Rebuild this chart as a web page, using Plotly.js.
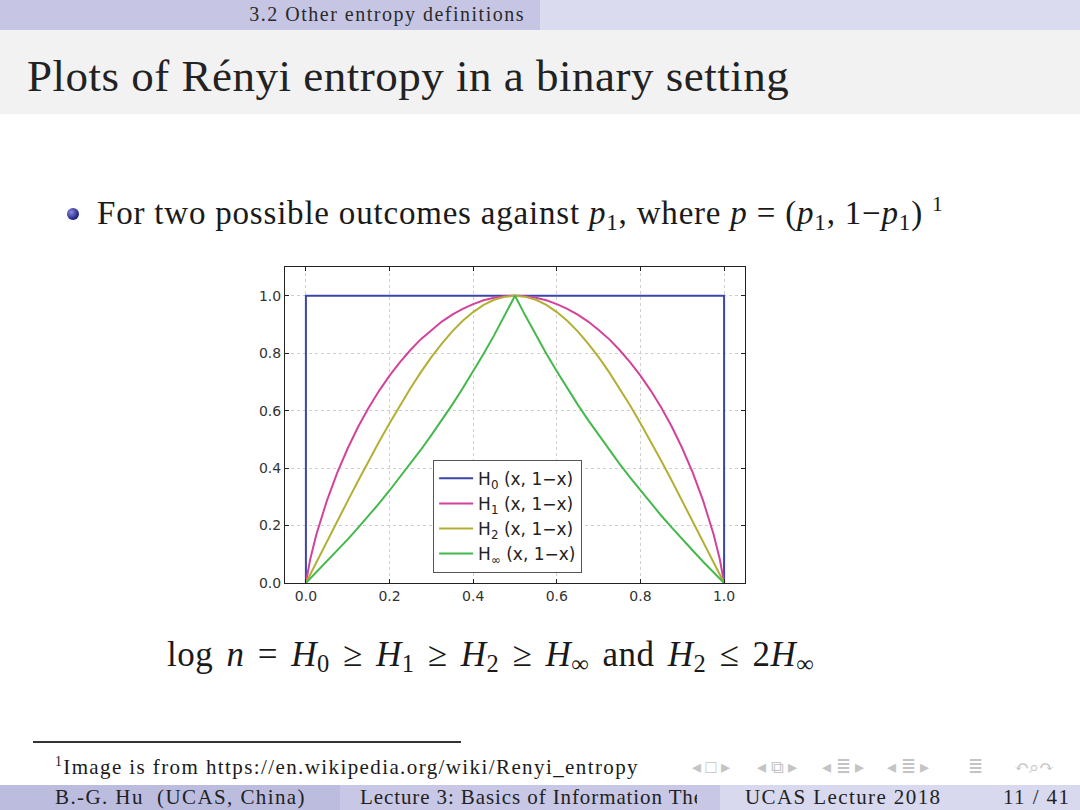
<!DOCTYPE html>
<html>
<head>
<meta charset="utf-8">
<script src="https://cdn.plot.ly/plotly-3.0.1.min.js"></script>
<style>
  html, body { margin: 0; padding: 0; }
  body { width: 1080px; height: 810px; position: relative; overflow: hidden; background: #ffffff;
         font-family: "Liberation Serif", "DejaVu Serif", serif; color: #1a1a1a; }
  .abs { position: absolute; white-space: nowrap; }
  #topL { left: 0; top: 0; width: 540px; height: 30px; background: #c6c6e4; }
  #topR { left: 540px; top: 0; width: 540px; height: 30px; background: #dbdbef; }
  #sect { right: 555px; top: 3px; font-size: 20px; letter-spacing: 1.5px; color: #2a2a2a; }
  #band { left: 0; top: 30px; width: 1080px; height: 84px; background: #f2f2f2; }
  #title { left: 27px; top: 50px; font-size: 45px; letter-spacing: 0.5px; color: #222; }
  #ball { left: 67px; top: 208px; width: 12px; height: 12px; border-radius: 50%;
          background: radial-gradient(circle at 35% 35%, #8a8ae0, #2a2a8a 60%, #15155a); }
  #bullet { left: 97px; top: 192px; font-size: 33px; letter-spacing: 0.8px; }
  #eq { left: 167px; top: 635px; font-size: 35px; word-spacing: 4px; letter-spacing: 0.5px; }
  i { font-style: italic; }
  sub { font-size: 0.7em; vertical-align: -0.25em; }
  sup { font-size: 0.65em; vertical-align: 0.6em; }
  #rule { left: 33px; top: 741px; width: 428px; height: 1.5px; background: #333; }
  #foot { left: 55px; top: 754px; font-size: 21px; letter-spacing: 1.4px; }
  .nav { top: 756px; font-size: 18px; color: #c4c4c4; }
  #fb1 { left: 0; top: 785px; width: 340px; height: 25px; background: #bcbcdf; }
  #fb2 { left: 340px; top: 785px; width: 380px; height: 25px; background: #c8c8e6; }
  #fb3 { left: 720px; top: 785px; width: 360px; height: 25px; background: #d8d8ee; }
  .ft { top: 785px; font-size: 21px; letter-spacing: 1.4px; color: #222; }
  #chart { left: 240px; top: 255px; width: 520px; height: 360px; }
</style>
</head>
<body>
<div class="abs" id="topL"></div>
<div class="abs" id="topR"></div>
<div class="abs" id="sect">3.2 Other entropy definitions</div>
<div class="abs" id="band"></div>
<div class="abs" id="title">Plots of Rényi entropy in a binary setting</div>
<div class="abs" id="ball"></div>
<div class="abs" id="bullet">For two possible outcomes against <i>p</i><sub>1</sub>, where <i>p</i> = (<i>p</i><sub>1</sub>, 1−<i>p</i><sub>1</sub>) <sup>1</sup></div>
<div class="abs" id="chart"></div>
<div class="abs" id="eq">log <i>n</i> = <i>H</i><sub>0</sub> ≥ <i>H</i><sub>1</sub> ≥ <i>H</i><sub>2</sub> ≥ <i>H</i><sub>∞</sub> and <i>H</i><sub>2</sub> ≤ 2<i>H</i><sub>∞</sub></div>
<div class="abs" id="rule"></div>
<div class="abs" id="foot"><sup>1</sup>Image is from https://en.wikipedia.org/wiki/Renyi_entropy</div>
<div class="abs nav" style="left:692px">◂ □ ▸</div>
<div class="abs nav" style="left:757px">◂ ⧉ ▸</div>
<div class="abs nav" style="left:822px">◂ ≣ ▸</div>
<div class="abs nav" style="left:887px">◂ ≣ ▸</div>
<div class="abs nav" style="left:968px">≣</div>
<div class="abs nav" style="left:1014px">↶⌕↷</div>
<div class="abs" id="fb1"></div>
<div class="abs" id="fb2"></div>
<div class="abs" id="fb3"></div>
<div class="abs ft" style="left:55px">B.-G. Hu &nbsp;(UCAS, China)</div>
<div class="abs ft" style="left:360px;width:337px;overflow:hidden;letter-spacing:0.9px">Lecture 3: Basics of Information Theory</div>
<div class="abs ft" style="left:745px">UCAS Lecture 2018</div>
<div class="abs ft" style="left:1003px">11 / 41</div>

<script>
// values
var x = [0, 0.01, 0.025, 0.05, 0.075, 0.1, 0.125, 0.15, 0.175, 0.2, 0.225, 0.25,
         0.275, 0.3, 0.325, 0.35, 0.375, 0.4, 0.425, 0.45, 0.475, 0.5,
         0.525, 0.55, 0.575, 0.6, 0.625, 0.65, 0.675, 0.7, 0.725, 0.75, 0.775,
         0.8, 0.825, 0.85, 0.875, 0.9, 0.925, 0.95, 0.975, 0.99, 1];
var h1 = [0, 0.081, 0.169, 0.286, 0.384, 0.469, 0.544, 0.610, 0.669, 0.722, 0.769, 0.811,
          0.849, 0.881, 0.910, 0.934, 0.954, 0.971, 0.984, 0.993, 0.998, 1.0,
          0.998, 0.993, 0.984, 0.971, 0.954, 0.934, 0.910, 0.881, 0.849, 0.811, 0.769,
          0.722, 0.669, 0.610, 0.544, 0.469, 0.384, 0.286, 0.169, 0.081, 0];
var h2 = [0, 0.029, 0.072, 0.144, 0.216, 0.286, 0.356, 0.425, 0.492, 0.556, 0.619, 0.678,
          0.734, 0.786, 0.833, 0.876, 0.913, 0.943, 0.968, 0.986, 0.996, 1.0,
          0.996, 0.986, 0.968, 0.943, 0.913, 0.876, 0.833, 0.786, 0.734, 0.678, 0.619,
          0.556, 0.492, 0.425, 0.356, 0.286, 0.216, 0.144, 0.072, 0.029, 0];
var hinf = [0, 0.015, 0.037, 0.074, 0.113, 0.152, 0.193, 0.234, 0.277, 0.322, 0.368, 0.415,
            0.464, 0.515, 0.567, 0.621, 0.678, 0.737, 0.798, 0.862, 0.930, 1.0,
            0.930, 0.862, 0.798, 0.737, 0.678, 0.621, 0.567, 0.515, 0.464, 0.415, 0.368,
            0.322, 0.277, 0.234, 0.193, 0.152, 0.113, 0.074, 0.037, 0.015, 0];
var x0 = [0, 0, 1, 1];
var h0 = [0, 1, 1, 0];
var names = ['H<sub>0</sub> (x, 1−x)', 'H<sub>1</sub> (x, 1−x)', 'H<sub>2</sub> (x, 1−x)', 'H<sub>∞</sub> (x, 1−x)'];
var colors = ['#3b46a8', '#d3439b', '#b2b034', '#45b84c'];

var data = [
  {x: x0, y: h0, name: names[0], mode: 'lines', line: {color: colors[0], width: 2}},
  {x: x, y: h1, name: names[1], mode: 'lines', line: {color: colors[1], width: 2}},
  {x: x, y: h2, name: names[2], mode: 'lines', line: {color: colors[2], width: 2}},
  {x: x, y: hinf, name: names[3], mode: 'lines', line: {color: colors[3], width: 2}}
];

var axisStyle = {
  showline: true, mirror: 'ticks', linecolor: '#222', linewidth: 1,
  ticks: 'inside', ticklen: 4, tickcolor: '#222',
  showgrid: true, gridcolor: '#cfcfcf', griddash: 'dot', gridwidth: 1,
  zeroline: false, tickformat: '.1f', dtick: 0.2,
  tickfont: {family: 'DejaVu Sans, sans-serif', size: 14, color: '#333'}
};

var layout = {
  width: 520, height: 360,
  margin: {l: 45, r: 15, t: 12, b: 32},
  paper_bgcolor: 'rgba(0,0,0,0)', plot_bgcolor: '#ffffff',
  showlegend: true,
  legend: {
    x: 0.322, y: 0.39, xanchor: 'left', yanchor: 'top',
    bgcolor: '#ffffff', bordercolor: '#555', borderwidth: 1,
    font: {family: 'DejaVu Sans, sans-serif', size: 17, color: '#222'},
    itemwidth: 34, tracegroupgap: 0
  },
  xaxis: Object.assign({}, axisStyle, {range: [-0.05, 1.05], tick0: 0}),
  yaxis: Object.assign({}, axisStyle, {range: [0, 1.1], tick0: 0})
};

Plotly.newPlot('chart', data, layout, {displayModeBar: false, staticPlot: true});
</script>
</body>
</html>
